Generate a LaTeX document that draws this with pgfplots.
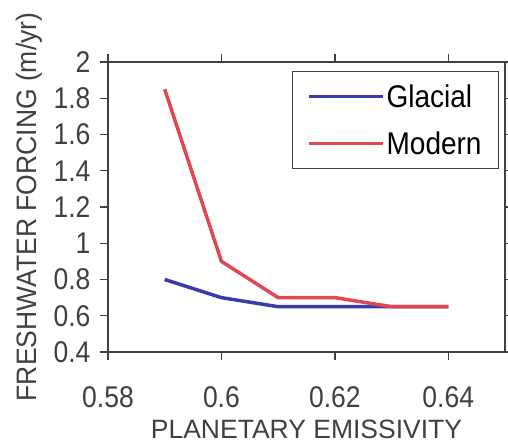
\documentclass[border=0pt]{standalone}
\usepackage{pgfplots}
\pgfplotsset{compat=1.18}
\usepackage{fontspec}
\setmainfont{Liberation Sans}
\definecolor{axgray}{HTML}{404040}
\definecolor{glac}{HTML}{3A3AAA}
\definecolor{mod}{HTML}{E04850}
\begin{document}
\begin{tikzpicture}
\begin{axis}[
  at={(0,0)}, anchor=south west,
  scale only axis,
  width=397pt, height=290pt,
  xmin=0.58, xmax=0.65, ymin=0.4, ymax=2,
  xtick={0.58,0.6,0.62,0.64},
  ytick={0.4,0.6,0.8,1,1.2,1.4,1.6,1.8,2},
  xticklabels={0.58,0.6,0.62,0.64},
  yticklabels={0.4,0.6,0.8,1,1.2,1.4,1.6,1.8,2},
  tick align=outside,
  major tick length=8pt,
  axis line style={axgray, line width=1.3pt},
  every tick/.style={axgray, line width=1.3pt},
  tick label style={font=\fontsize{26.5}{28}\selectfont, text=axgray, yscale=1.13},
  xticklabel style={yshift=-20pt},
  yticklabel style={xshift=-6pt},
  /pgf/number format/assume math mode=true,
  xlabel={PLANETARY EMISSIVITY},
  ylabel={FRESHWATER FORCING (m/yr)},
  label style={font=\fontsize{26.5}{28}\selectfont, text=axgray},
  xlabel style={at={(0.5,0)}, anchor=center, yshift=-77pt},
  ylabel style={at={(0,0.5)}, anchor=center, yshift=79pt, yscale=1.06},
  legend style={at={(0.985,0.97)}, anchor=north east, draw=axgray, line width=1pt,
    font=\fontsize{28}{29}\selectfont, row sep=18pt, inner xsep=15pt, inner ysep=11pt,
    nodes={yscale=1.12}},
  legend cell align=left,
  legend image code/.code={\draw[#1] (0pt,0pt) -- (74pt,0pt);},
]
\addplot[glac, line width=3.5pt] coordinates {(0.59,0.8) (0.6,0.7) (0.61,0.65) (0.62,0.65) (0.63,0.65) (0.64,0.65)};
\addplot[mod, line width=3.5pt] coordinates {(0.59,1.85) (0.6,0.9) (0.61,0.7) (0.62,0.7) (0.63,0.65) (0.64,0.65)};
\legend{Glacial, Modern}
\end{axis}
\pgfresetboundingbox
\useasboundingbox (-108pt,-92pt) rectangle (400pt,352pt);
\end{tikzpicture}
\end{document}
